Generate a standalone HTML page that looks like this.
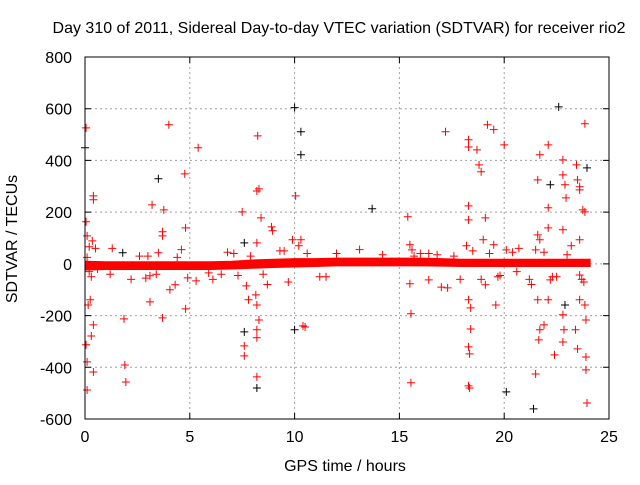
<!DOCTYPE html>
<html><head><meta charset="utf-8"><style>
body{margin:0;background:#fff}
svg text{font-family:"Liberation Sans",sans-serif;font-size:16px;fill:#000}
</style></head><body>
<svg id="chart" width="640" height="480" xmlns="http://www.w3.org/2000/svg">
<text x="339" y="33" text-anchor="middle">Day 310 of 2011, Sidereal Day-to-day VTEC variation (SDTVAR) for receiver rio2</text>
<text x="345" y="471" text-anchor="middle">GPS time / hours</text>
<text transform="translate(17,239) rotate(-90)" text-anchor="middle">SDTVAR / TECUs</text>
<g id="grid"></g>
<g id="axes"></g>
<g id="band"></g>
<g id="pts"></g>
<rect x="85" y="57" width="524" height="362" fill="none" stroke="#000" stroke-width="1"/>
</svg>
<script>
const xTicks=[0,5,10,15,20,25];
const yTicks=[800,600,400,200,0,-200,-400,-600];
const bandHours=[0,1,2,3,4,5,6,7,8,9,10,11,12,13,14,15,16,17,18,19,20,21,22,23,24,24.1];
const bandHigh=[10,8,8,8,8,8,8,10,15,18,20,20,22,22,22,22,22,20,18,18,18,18,18,18,18,18];
const bandLow=[-24,-22,-22,-22,-22,-22,-22,-20,-17,-14,-12,-10,-8,-8,-8,-8,-8,-9,-10,-10,-10,-10,-10,-10,-10,-10];
const redX=[0.05,0.05,0.1,0.2,0.3,0.35,0.4,0.4,0.3,0.05,0.1,0.1,0.4,0.4,0.25,0.15,1.86,1.9,1.95,3.2,3.76,3.7,3.7,3.5,3.1,3.1,3.7,4.0,4.05,4.3,4.76,4.8,4.8,4.9,5.4,5.3,7.5,7.6,7.6,7.7,7.8,8.24,8.3,8.2,8.4,8.2,8.15,8.2,8.3,8.2,8.2,8.2,8.9,8.95,9.9,10.05,10.3,10.2,10.4,10.5,15.4,15.5,15.6,15.5,15.55,15.55,16.4,16.4,17.2,17.3,18.3,18.3,18.3,18.3,18.2,18.3,18.4,18.4,18.3,18.35,18.3,18.35,18.7,18.8,18.9,19.1,19.0,19.2,19.5,19.6,19.1,19.5,20.0,20.1,21.6,21.7,21.6,21.7,21.6,21.7,21.65,21.5,21.5,22.1,22.1,22.1,22.2,22.1,22.8,22.8,22.8,22.9,22.95,22.8,22.8,22.85,23.5,23.45,23.5,23.6,23.75,23.85,23.6,23.6,23.85,23.6,23.4,23.9,23.9,23.85,23.6,23.9,23.95,22.4,21.9,20.6,17.9,12.0,11.2,6.5,2.6,1.2,
0.1,0.2,0.6,1.3,2.2,3.0,3.4,4.4,5.9,6.8,7.3,7.9,8.5,9.3,9.7,10.6,11.5,13.1,14.2,15.7,16.8,17.6,18.5,19.3,19.8,20.7,21.2,21.9,22.5,23.2,23.8,4.6,6.1,7.1,8.7,9.5,16.0,17.0,18.9,19.7,20.4,21.3,22.3,23.0,23.7,2.9,0.5];
const redY=[526,163,108,66,-50,89,248,263,-279,-313,-379,-488,-418,-236,-139,-159,-213,-391,-457,228,209,124,108,43,-46,-147,-209,538,-100,-81,348,139,-174,-54,449,-66,201,-317,-356,-85,-139,495,290,282,178,81,-120,-159,-217,-255,-286,-437,143,128,93,263,93,70,-240,-244,182,74,54,-77,-193,-460,-62,40,511,-93,480,452,224,170,70,-139,-170,-252,-321,-348,-472,-480,441,383,356,178,93,538,519,-159,-81,74,460,54,325,422,112,93,-139,-255,-294,54,-426,460,217,139,-62,-139,-302,402,344,306,255,132,-197,-255,-329,383,325,298,209,201,286,-43,-159,-139,-255,-360,-410,542,93,-217,-538,-352,-236,-30,-60,40,-50,-40,30,-40,25,-30,-20,
60,-60,30,-40,25,-35,45,-45,30,-40,50,-70,40,-50,55,35,30,35,30,50,40,-45,60,-60,45,-50,70,-70,55,-60,40,-80,50,40,-90,-60,-50,45,-80,-50,35,-60,-55,60,-70,35,70];
const blackX=[0.0,1.8,3.5,7.6,7.6,8.2,10.0,10.3,10.3,10.0,13.7,21.4,20.1,22.6,23.95,22.9,22.2];
const blackY=[449,43,329,81,-263,-480,604,511,422,-255,213,-561,-495,607,371,-159,306];
const X0=85,X1=609,Y0=419,Y1=57;
const sx=h=>X0+(h-0)/25*(X1-X0);
const sy=v=>Y0-(v+600)/1400*(Y0-Y1);
const NS="http://www.w3.org/2000/svg";
function mk(tag,attrs,parent){const e=document.createElementNS(NS,tag);for(const k in attrs)e.setAttribute(k,attrs[k]);parent.appendChild(e);return e;}
const grid=document.getElementById('grid'),axes=document.getElementById('axes');
xTicks.forEach(t=>{const x=sx(t);
 if(t>0&&t<25){const l=mk('line',{x1:x,x2:x,y1:Y1,y2:Y0,stroke:'#a0a0a0','stroke-dasharray':'2,3'},grid);}
 const tk=mk('path',{d:`M${x},${Y0}v-6M${x},${Y1}v6`,stroke:'#000'},axes);
 const tx=mk('text',{x:x,y:Y0+23,'text-anchor':'middle'},axes);tx.textContent=t;});
yTicks.forEach(t=>{const y=sy(t);
 if(t<800&&t>-600){const l=mk('line',{x1:X0,x2:X1,y1:y,y2:y,stroke:'#a0a0a0','stroke-dasharray':'2,3'},grid);}
 const tk=mk('path',{d:`M${X0},${y}h6M${X1},${y}h-6`,stroke:'#000'},axes);
 const tx=mk('text',{x:X0-13,y:y+6,'text-anchor':'end'},axes);tx.textContent=t;});
let d='M'+bandHours.map((h,i)=>sx(h)+','+sy(bandHigh[i])).join('L');
for(let i=bandHours.length-1;i>=0;i--)d+='L'+sx(bandHours[i])+','+sy(bandLow[i]);
const bp=mk('path',{d:d+'Z',fill:'#ff0000',stroke:'#ff0000','stroke-width':1},document.getElementById('band'));


const pts=document.getElementById('pts');
function plus(x,y,c,name){const p=mk('path',{d:`M${x-4},${y}h8M${x},${y-4}v8`,stroke:c,'stroke-width':1},pts);
 
 }
blackX.forEach((h,i)=>plus(sx(h),sy(blackY[i]),'#000','black-point'));
redX.forEach((h,i)=>plus(sx(h),sy(redY[i]),'#ff0000','red-point'));
</script>
</body></html>
